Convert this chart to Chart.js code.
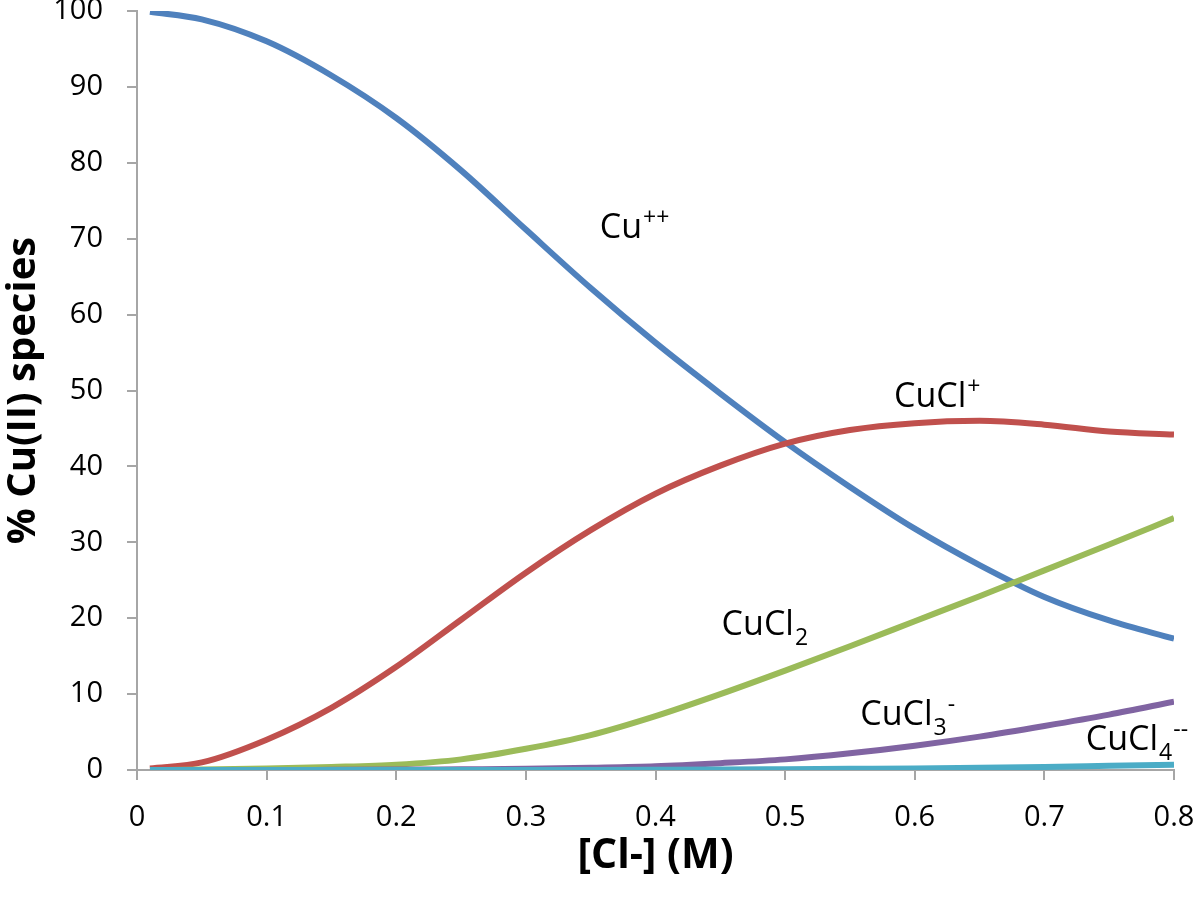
<!DOCTYPE html>
<html>
<head>
<meta charset="utf-8">
<title>Cu(II) chloro species</title>
<script src="https://cdn.jsdelivr.net/npm/chart.js@4.4.1/dist/chart.umd.min.js"></script>
<style>
  html, body { margin: 0; padding: 0; background: #fff; }
  #wrap { width: 1200px; height: 900px; }
</style>
</head>
<body>
<div id="wrap"><canvas id="chart" width="1200" height="900"></canvas></div>
<script>
// chloride concentration (M)
const chloride = [0.01, 0.05, 0.1, 0.15, 0.2, 0.25, 0.3, 0.35, 0.4, 0.45, 0.5, 0.55, 0.6, 0.65, 0.7, 0.75, 0.8];

// % of Cu(II) present as each species
const cuFree  = [99.9, 98.9, 96.0, 91.5, 85.9, 79.0, 71.2, 63.5, 56.3, 49.6, 43.2, 37.3, 31.8, 27.0, 22.8, 19.7, 17.3];
const cuCl    = [0.2, 1.0, 4.0, 8.2, 13.6, 19.8, 26.0, 31.6, 36.4, 40.1, 43.0, 44.8, 45.7, 46.0, 45.5, 44.6, 44.2];
const cuCl2   = [0.0, 0.05, 0.2, 0.4, 0.7, 1.4, 2.8, 4.6, 7.1, 10.0, 13.1, 16.3, 19.6, 22.9, 26.3, 29.7, 33.2];
const cuCl3   = [0.0, 0.0, 0.0, 0.02, 0.05, 0.1, 0.15, 0.3, 0.5, 0.9, 1.4, 2.2, 3.2, 4.4, 5.8, 7.3, 9.0];
const cuCl4   = [0.0, 0.0, 0.0, 0.0, 0.0, 0.0, 0.0, 0.0, 0.02, 0.05, 0.1, 0.15, 0.2, 0.3, 0.4, 0.55, 0.7];

const xTicks = [0, 0.1, 0.2, 0.3, 0.4, 0.5, 0.6, 0.7, 0.8];

const AXIS_GREY = '#a6a6a6';
const FONT = '"Open Sans", "Liberation Sans", sans-serif';

const toPoints = vals => chloride.map((c, i) => ({ x: c, y: vals[i] }));

// in-plot species labels (data coords of the text's left baseline)
const speciesLabels = [
  { x: 0.357, y: 70.1, base: 'Cu',   sub: '',  sup: '++' },
  { x: 0.584, y: 47.8, base: 'CuCl', sub: '',  sup: '+' },
  { x: 0.451, y: 17.8, base: 'CuCl', sub: '2', sup: '' },
  { x: 0.558, y: 5.9,  base: 'CuCl', sub: '3', sup: '-' },
  { x: 0.732, y: 2.6,  base: 'CuCl', sub: '4', sup: '--' }
];

const labelPlugin = {
  id: 'speciesLabels',
  afterDatasetsDraw(chart) {
    const { ctx, scales: { x, y } } = chart;
    ctx.save();
    ctx.fillStyle = '#000';
    ctx.textBaseline = 'alphabetic';
    ctx.textAlign = 'left';
    speciesLabels.forEach(l => {
      let px = x.getPixelForValue(l.x);
      const py = y.getPixelForValue(l.y);
      ctx.font = '34px ' + FONT;
      ctx.fillText(l.base, px, py);
      px += ctx.measureText(l.base).width + 1;
      ctx.font = '23px ' + FONT;
      if (l.sub) {
        ctx.fillText(l.sub, px, py + 10);
        px += ctx.measureText(l.sub).width + 1;
      }
      if (l.sup) {
        ctx.fillText(l.sup, px, py - 13);
      }
    });
    ctx.restore();
  }
};

const series = [
  { label: 'Cu++',    data: cuFree, color: '#4f81bd' },
  { label: 'CuCl+',   data: cuCl,   color: '#c0504d' },
  { label: 'CuCl2',   data: cuCl2,  color: '#9bbb59' },
  { label: 'CuCl3-',  data: cuCl3,  color: '#8064a2' },
  { label: 'CuCl4--', data: cuCl4,  color: '#4bacc6' }
];

new Chart(document.getElementById('chart'), {
  type: 'line',
  data: {
    datasets: series.map((s, i) => ({
      label: s.label,
      data: toPoints(s.data),
      borderColor: s.color,
      backgroundColor: s.color,
      borderWidth: 6,
      pointRadius: 0,
      cubicInterpolationMode: 'monotone',
      order: series.length - i
    }))
  },
  options: {
    responsive: false,
    animation: false,
    layout: { padding: { top: 11, right: 26, left: 0, bottom: 0 } },
    plugins: {
      legend: { display: false },
      tooltip: { enabled: false }
    },
    scales: {
      x: {
        type: 'linear',
        min: 0,
        max: 0.8,
        afterBuildTicks: axis => { axis.ticks = xTicks.map(v => ({ value: v })); },
        afterFit: axis => {
          axis.height = 130;
          axis.paddingLeft = 0;
          axis.paddingRight = 0;
        },
        border: { display: true, color: AXIS_GREY, width: 2 },
        grid: { display: true, drawOnChartArea: false, drawTicks: true, tickLength: 10, color: AXIS_GREY, lineWidth: 2 },
        ticks: {
          color: '#000',
          padding: 20,
          maxRotation: 0,
          font: { family: FONT, size: 29 },
          callback: v => String(+v.toFixed(1))
        },
        title: {
          display: true,
          text: '[Cl-] (M)',
          color: '#000',
          font: { family: FONT, size: 41, weight: 'bold' },
          padding: { top: 0, bottom: 19 }
        }
      },
      y: {
        min: 0,
        max: 100,
        afterFit: axis => {
          axis.width = 137;
          axis.paddingTop = 0;
          axis.paddingBottom = 0;
        },
        border: { display: true, color: AXIS_GREY, width: 2 },
        grid: { display: true, drawOnChartArea: false, drawTicks: true, tickLength: 10, color: AXIS_GREY, lineWidth: 2 },
        ticks: {
          color: '#000',
          stepSize: 10,
          padding: 24,
          font: { family: FONT, size: 29 }
        },
        title: {
          display: true,
          text: '% Cu(II) species',
          color: '#000',
          font: { family: FONT, size: 40, weight: 'bold' },
          padding: { top: 0, bottom: 0 }
        }
      }
    }
  },
  plugins: [labelPlugin]
});
</script>
</body>
</html>
